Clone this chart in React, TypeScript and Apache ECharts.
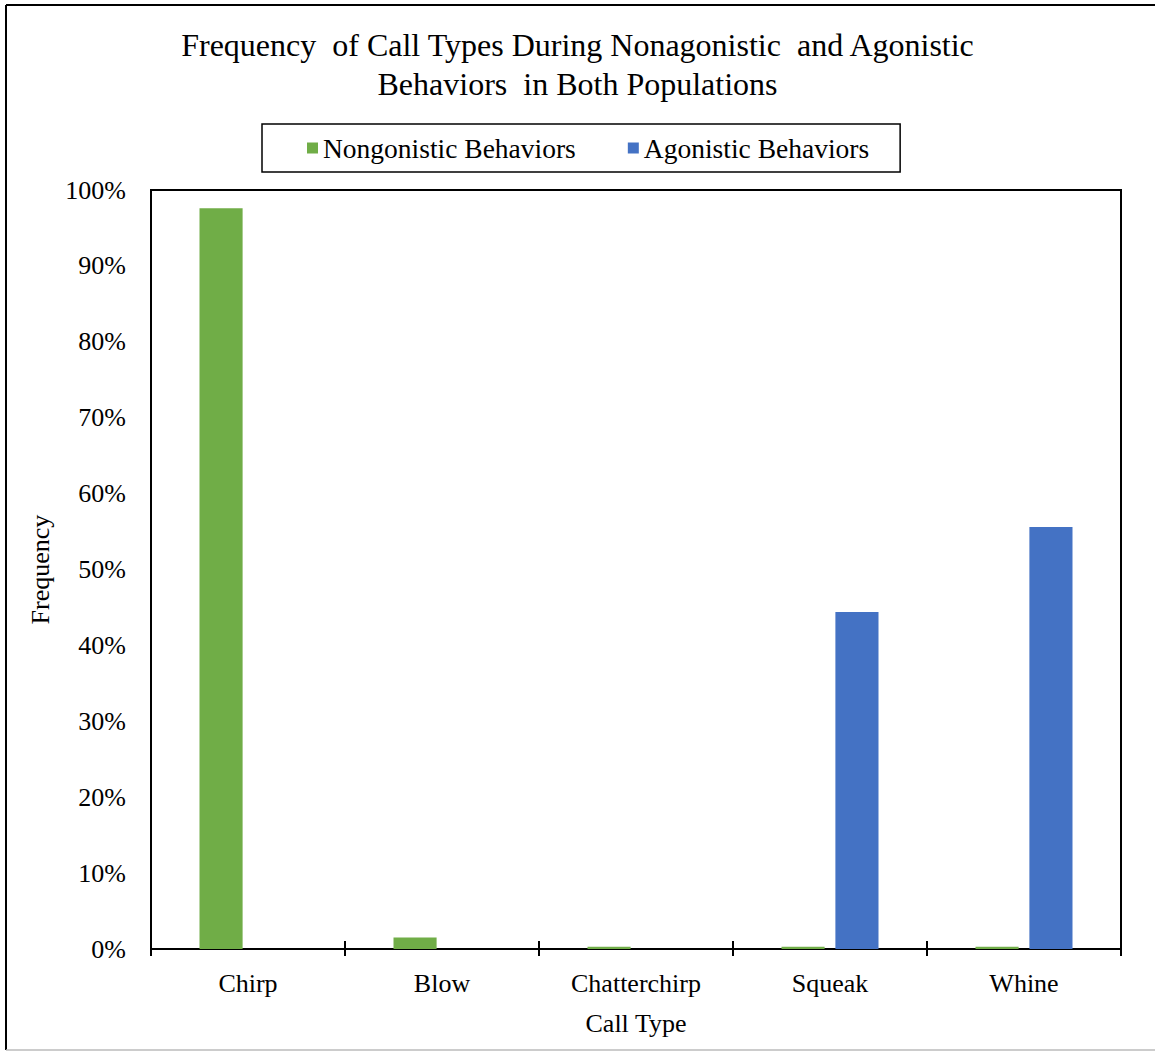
import React, { useEffect, useRef } from "react";
import * as echarts from "echarts";

const categories = ["Chirp", "Blow", "Chatterchirp", "Squeak", "Whine"];
const nonagonistic = [97.6, 1.5, 0.3, 0.3, 0.3];
const agonistic = [0, 0, 0, 44.4, 55.6];
const seriesNames = ["Nongonistic Behaviors", "Agonistic Behaviors"];
const titleText = "Frequency  of Call Types During Nonagonistic  and Agonistic\nBehaviors  in Both Populations";

const FONT = "'Liberation Serif', 'Times New Roman', serif";

export default function App() {
  const ref = useRef<HTMLDivElement>(null);
  useEffect(() => {
    if (!ref.current) return;
    const chart = echarts.init(ref.current, undefined, { renderer: "svg" });
    chart.setOption({
      animation: false,
      backgroundColor: "#fff",
      textStyle: { fontFamily: FONT, color: "#000" },
      title: {
        text: titleText,
        left: "center",
        top: 25,
        padding: [0, 0, 0, 10],
        textStyle: { fontFamily: FONT, fontSize: 32, fontWeight: "normal", color: "#000", lineHeight: 39 },
      },
      legend: {
        left: 262,
        top: 124,
        padding: [10, 31, 10, 45],
        itemGap: 52,
        itemWidth: 11,
        itemHeight: 11,
        icon: "rect",
        borderColor: "#000",
        borderWidth: 1.5,
        textStyle: { fontFamily: FONT, fontSize: 27.5, color: "#000" },
        data: seriesNames,
      },
      grid: {
        left: 151,
        right: 34,
        top: 190,
        bottom: 102,
        show: true,
        borderColor: "#000",
        borderWidth: 2,
        containLabel: false,
      },
      xAxis: [
        {
          type: "category",
          data: categories,
          name: "Call Type",
          nameLocation: "middle",
          nameGap: 61,
          nameTextStyle: { fontFamily: FONT, fontSize: 26, color: "#000" },
          axisLine: { show: true, lineStyle: { color: "#000", width: 2 } },
          axisTick: { show: true, length: 7, lineStyle: { color: "#000", width: 2 } },
          axisLabel: { margin: 21, fontFamily: FONT, fontSize: 26, color: "#000" },
          splitLine: { show: false },
        },
        {
          type: "category",
          data: categories,
          position: "bottom",
          axisLine: { show: false },
          axisTick: { show: true, inside: true, length: 8, lineStyle: { color: "#000", width: 2 } },
          axisLabel: { show: false },
          splitLine: { show: false },
        },
      ],
      yAxis: {
        type: "value",
        min: 0,
        max: 100,
        interval: 10,
        name: "Frequency",
        nameLocation: "middle",
        nameGap: 98,
        nameTextStyle: { fontFamily: FONT, fontSize: 26, color: "#000" },
        axisLine: { show: true, lineStyle: { color: "#000", width: 2 } },
        axisTick: { show: false },
        axisLabel: { formatter: "{value}%", margin: 25, fontFamily: FONT, fontSize: 26, color: "#000" },
        splitLine: { show: false },
      },
      series: [
        {
          name: seriesNames[0],
          type: "bar",
          data: nonagonistic,
          itemStyle: { color: "#70AD47" },
          barGap: "25%",
          barCategoryGap: "50%",
        },
        {
          name: seriesNames[1],
          type: "bar",
          data: agonistic,
          itemStyle: { color: "#4472C4" },
          barGap: "25%",
          barCategoryGap: "50%",
        },
      ],
      graphic: [
        { type: "line", shape: { x1: 6, y1: 5, x2: 1155, y2: 5 }, style: { stroke: "#000", lineWidth: 2 } },
        { type: "line", shape: { x1: 6, y1: 5, x2: 6, y2: 1050 }, style: { stroke: "#000", lineWidth: 2 } },
        { type: "line", shape: { x1: 6, y1: 1050, x2: 1155, y2: 1050 }, style: { stroke: "#bbb", lineWidth: 1.5 } },
      ],
    });
    return () => chart.dispose();
  }, []);
  return (
    <div
      ref={ref}
      style={{ position: "absolute", left: 0, top: 0, width: 1155, height: 1051, background: "#fff" }}
    />
  );
}
